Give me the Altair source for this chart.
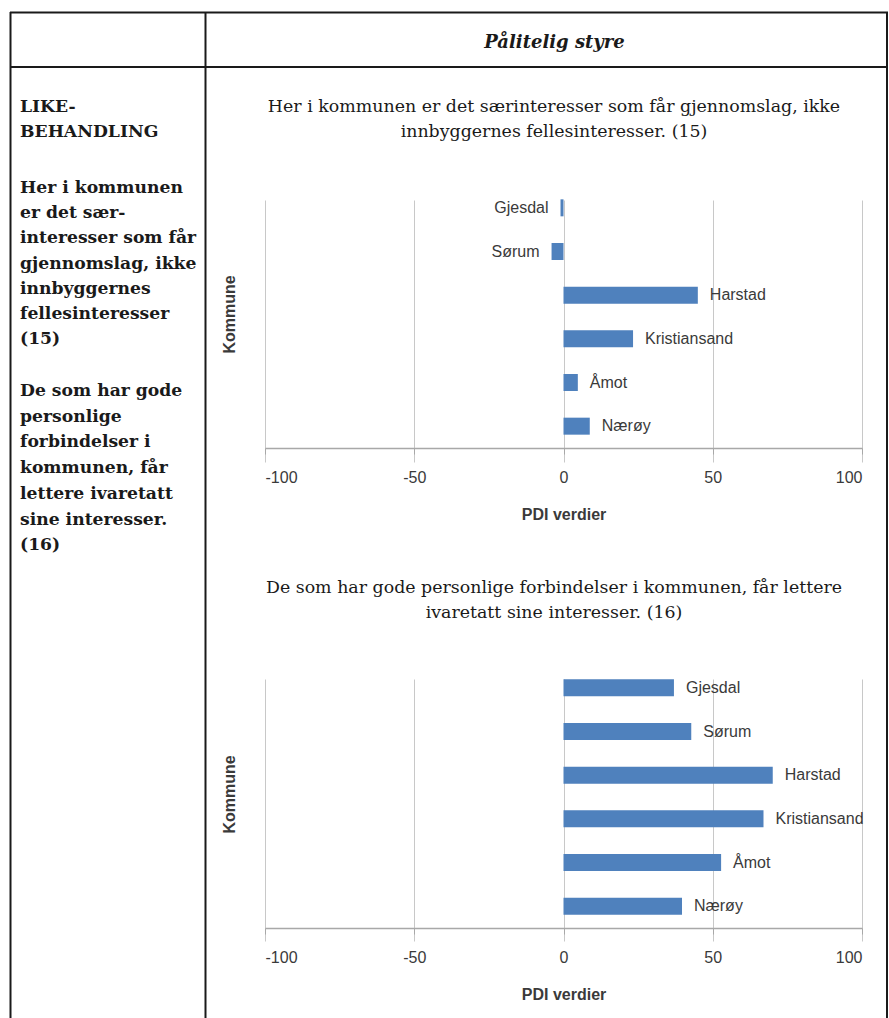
import altair as alt
import pandas as pd

# ---- data ----
kommuner = ["Gjesdal", "Sørum", "Harstad", "Kristiansand", "Åmot", "Nærøy"]
pdi_15 = [-1, -4, 45, 23.3, 4.8, 8.8]
pdi_16 = [37, 42.8, 70.1, 67, 52.8, 39.7]
x_ticks = [-100, -50, 0, 50, 100]

header_text = "Pålitelig styre"
left_heading = ["LIKE-", "BEHANDLING"]
left_q15 = ["Her i kommunen", "er det sær-", "interesser som får",
            "gjennomslag, ikke", "innbyggernes", "fellesinteresser", "(15)"]
left_q16 = ["De som har gode", "personlige", "forbindelser i", "kommunen, får",
            "lettere ivaretatt", "sine interesser.", "(16)"]
title_15 = ["Her i kommunen er det særinteresser som får gjennomslag, ikke",
            "innbyggernes fellesinteresser. (15)"]
title_16 = ["De som har gode personlige forbindelser i kommunen, får lettere",
            "ivaretatt sine interesser. (16)"]
x_title = "PDI verdier"
y_title = "Kommune"

SERIF = "DejaVu Serif"
SANS = "Liberation Sans"
INK = "#1a1a1a"
LABEL = "#3a3a3a"
BAR = "#4F81BD"

one = alt.Data(values=[{"d": 0}])


def rule(x, x2, y, y2):
    return alt.Chart(one).mark_rule(color=INK, strokeWidth=2).encode(
        x=alt.value(x), x2=alt.value(x2), y=alt.value(y), y2=alt.value(y2))


def text(lines, x, y, **kw):
    return alt.Chart(one).mark_text(**kw).encode(
        x=alt.value(x), y=alt.value(y), text=alt.value(lines))


def left_text(lines, y, lh):
    return text(lines, -245, y, font=SERIF, fontSize=17.2, fontWeight="bold",
                align="left", baseline="alphabetic", lineHeight=lh, color=INK)


def panel(values, y_range, title_y):
    df = pd.DataFrame({"Kommune": kommuner, "PDI": values})
    base = alt.Chart(df)
    x_enc = alt.X(
        "PDI:Q",
        scale=alt.Scale(domain=[-100, 100], nice=False),
        axis=alt.Axis(
            values=x_ticks, grid=True, gridColor="#c8c8c8", gridWidth=1,
            domainColor="#a8a8a8", domainWidth=1.5, tickColor="#a8a8a8",
            tickSize=6, labelBaseline="middle", labelPadding=23,
            labelExpr="datum.value < 0 ? '-' + abs(datum.value) : '' + datum.value",
            title=x_title, titleY=66, titleBaseline="middle",
        ),
    )
    y_enc = alt.Y(
        "Kommune:N", sort=kommuner,
        scale=alt.Scale(range=y_range, paddingInner=0, paddingOuter=0),
        axis=alt.Axis(labels=False, ticks=False, domain=False, grid=False,
                      title=y_title, titleAngle=-90, titleX=-35.5,
                      titleY=title_y, titleBaseline="middle"),
    )
    bars = base.mark_bar(size=17, color=BAR).encode(x=x_enc, y=y_enc)
    pos = base.transform_filter("datum.PDI >= 0").mark_text(
        align="left", baseline="middle", dx=12, font=SANS, fontSize=16,
        color=LABEL).encode(x=x_enc, y=y_enc, text="Kommune:N")
    neg = base.transform_filter("datum.PDI < 0").mark_text(
        align="right", baseline="middle", dx=-12, font=SANS, fontSize=16,
        color=LABEL).encode(x=x_enc, y=y_enc, text="Kommune:N")
    return bars, pos, neg


# panel 1 (origin on page: x=265, y=200)
b1, p1, n1 = panel(pdi_15, [-14, 248], 114)
# invisible frame that fixes the page extent (889 x 1018)
frame = alt.Chart(one).mark_rect(color="white", opacity=0).encode(
    x=alt.value(-265), x2=alt.value(624), y=alt.value(-200), y2=alt.value(818))

decor = [
    frame,
    rule(-255, 623, -187.5, -187.5),
    rule(-255, 623, -133, -133),
    rule(-254.5, -254.5, -188, 818),
    rule(-59.5, -59.5, -188, 818),
    rule(622, 622, -188, 818),
    text(header_text, 289.5, -152, font=SERIF, fontSize=18, fontWeight="bold",
         fontStyle="italic", align="center", baseline="alphabetic", color=INK),
    left_text(left_heading, -88, 25.2),
    left_text(left_q15, -7, 25.2),
    left_text(left_q16, 196, 25.7),
    text(title_15, 289, -88.3, font=SERIF, fontSize=17.4, align="center",
         baseline="alphabetic", lineHeight=25, color=INK),
]

c1 = alt.layer(*decor, b1, p1, n1).properties(width=597, height=248)

# panel 2 (origin on page: x=265, y=679)
b2, p2, n2 = panel(pdi_16, [-13, 249], 115)
t2 = text(title_16, 289, -86, font=SERIF, fontSize=17.4, align="center",
          baseline="alphabetic", lineHeight=25, color=INK)
c2 = alt.layer(t2, b2, p2, n2).properties(width=597, height=249)

chart = alt.vconcat(c1, c2, spacing=231, bounds="flush").properties(
    padding=0, background="white"
).configure_view(stroke=None).configure_axis(
    labelFont=SANS, labelFontSize=16, labelColor=LABEL,
    titleFont=SANS, titleFontSize=16, titleFontWeight="bold", titleColor=LABEL,
)

chart.save("out.html", embed_options={"renderer": "svg", "actions": False})
